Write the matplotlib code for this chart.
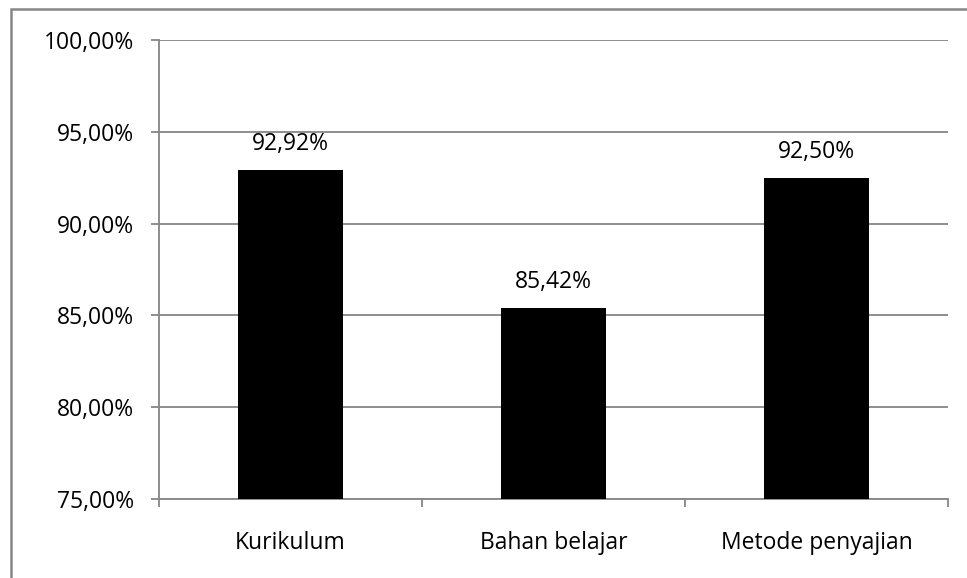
import matplotlib
matplotlib.use("Agg")
import matplotlib.pyplot as plt
from matplotlib.patches import Rectangle
from matplotlib.ticker import FuncFormatter

# Persentase per aspek
categories = ["Kurikulum", "Bahan belajar", "Metode penyajian"]
values = [92.92, 85.42, 92.50]
y_ticks = [75, 80, 85, 90, 95, 100]

plt.rcParams['font.family'] = ['Open Sans', 'DejaVu Sans']
GRAY = '#868686'
FS = 16.5

W, H = 967, 578
fig = plt.figure(figsize=(W / 100, H / 100), dpi=100)

# plot area in pixel coordinates
left, right, top, bottom = 159, 948, 40, 499
ax = fig.add_axes([left / W, 1 - bottom / H, (right - left) / W, (bottom - top) / H])

# outer chart border (right/bottom edges run off the canvas)
fig.patches.append(Rectangle((11 / W, -0.1), 1.1, 1 - 9 / H + 0.1,
                             transform=fig.transFigure, fill=False,
                             edgecolor=GRAY, linewidth=1.8, clip_on=False))

x = range(len(categories))
ax.bar(x, values, width=0.40, color='black', zorder=3)
ax.set_xlim(-0.5, len(categories) - 0.5)
ax.set_ylim(75, 100)

def fmt(v):
    return f"{v:.2f}".replace('.', ',') + "%"

for i, v in enumerate(values):
    ax.annotate(fmt(v), (i, v), xytext=(0, 10), textcoords='offset points',
                ha='center', va='bottom', fontsize=FS, color='black')

ax.set_yticks(y_ticks)
ax.yaxis.set_major_formatter(FuncFormatter(lambda v, _: fmt(v)))
ax.grid(axis='y', color=GRAY, linewidth=1.3, zorder=0)
ax.set_axisbelow(True)

ax.set_xticks(list(x))
ax.set_xticklabels(categories)
ax.tick_params(axis='x', length=0, pad=23, labelsize=FS)
ax.set_xticks([-0.5, 0.5, 1.5, 2.5], minor=True)
ax.tick_params(axis='x', which='minor', length=6, color=GRAY, width=1.3, direction='out')
ax.tick_params(axis='y', length=6, color=GRAY, width=1.3, pad=12, labelsize=FS)

for s in ['top', 'right']:
    ax.spines[s].set_visible(False)
for s in ['left', 'bottom']:
    ax.spines[s].set_color(GRAY)
    ax.spines[s].set_linewidth(1.3)

fig.savefig("out.png", dpi=100)
